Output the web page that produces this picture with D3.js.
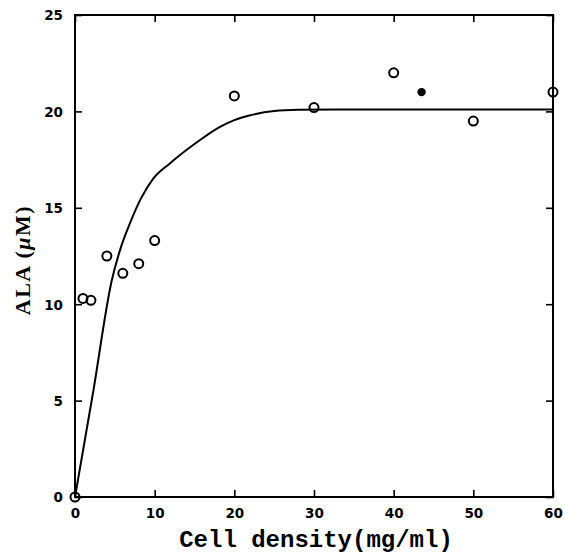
<!DOCTYPE html>
<html>
<head>
<meta charset="utf-8">
<script src="https://cdn.jsdelivr.net/npm/d3@7"></script>
<style>
  body { margin: 0; background: white; }
  .tick-label { font-family: "DejaVu Sans", sans-serif; font-weight: bold; font-size: 13.5px; }
  .x-title { font-family: "Liberation Mono", monospace; font-weight: bold; font-size: 24px; }
  .y-title { font-family: "Liberation Serif", serif; font-weight: bold; font-size: 22px; }
</style>
</head>
<body>
<div id="chart"></div>
<script>
// measured points (open circles)
const density = [0, 1, 2, 4, 6, 8, 10, 20, 30, 40, 50, 60];
const ala = [0, 10.3, 10.2, 12.5, 11.6, 12.1, 13.3, 20.8, 20.2, 22.0, 19.5, 21.0];

// single filled point
const filledDensity = [43.5];
const filledAla = [21.0];

// fitted curve
const curveX = [0, 2.3, 4.6, 5.8, 6.9, 8.3, 9.8, 11.9, 15.3, 18.2, 20, 22, 25, 28, 35, 60];
const curveY = [0, 5.5, 11.2, 13.0, 14.2, 15.5, 16.5, 17.3, 18.4, 19.2, 19.55, 19.8, 20.02, 20.08, 20.1, 20.1];

const xTicks = [0, 10, 20, 30, 40, 50, 60];
const yTicks = [0, 5, 10, 15, 20, 25];

const margin = {top: 15, right: 12, bottom: 56, left: 75};
const width = 565 - margin.left - margin.right;
const height = 553 - margin.top - margin.bottom;

const svg = d3.select("#chart")
  .append("svg")
  .attr("width", 565)
  .attr("height", 553)
  .append("g")
  .attr("transform", `translate(${margin.left},${margin.top})`);

const x = d3.scaleLinear().domain([0, 60]).range([0, width]);
const y = d3.scaleLinear().domain([0, 25]).range([height, 0]);

// frame
svg.append("rect")
  .attr("width", width)
  .attr("height", height)
  .attr("fill", "none")
  .attr("stroke", "#000")
  .attr("stroke-width", 2);

// inward ticks on all four sides
const tickLen = 7;
const bottomAxis = d3.axisBottom(x).tickValues(xTicks).tickSize(-tickLen).tickFormat(d3.format("d"));
const topAxis = d3.axisTop(x).tickValues(xTicks).tickSize(-tickLen).tickFormat("");
const leftAxis = d3.axisLeft(y).tickValues(yTicks).tickSize(-tickLen).tickFormat(d3.format("d"));
const rightAxis = d3.axisRight(y).tickValues(yTicks).tickSize(-tickLen).tickFormat("");

const gb = svg.append("g").attr("transform", `translate(0,${height})`).call(bottomAxis);
const gt = svg.append("g").call(topAxis);
const gl = svg.append("g").call(leftAxis);
const gr = svg.append("g").attr("transform", `translate(${width},0)`).call(rightAxis);

[gb, gt, gl, gr].forEach(g => {
  g.select(".domain").remove();
  g.selectAll(".tick line").attr("stroke", "#000").attr("stroke-width", 1.6);
  g.selectAll("text").attr("class", "tick-label").attr("fill", "#000");
});
gb.selectAll("text").attr("y", 11).attr("dy", "0.71em");
gl.selectAll("text").attr("x", -12).attr("dy", "0.36em");

// curve
const line = d3.line()
  .x(d => x(d[0]))
  .y(d => y(d[1]))
  .curve(d3.curveMonotoneX);

svg.append("path")
  .datum(curveX.map((v, i) => [v, curveY[i]]))
  .attr("d", line)
  .attr("fill", "none")
  .attr("stroke", "#000")
  .attr("stroke-width", 2);

// open circles
svg.selectAll(".pt")
  .data(density.map((v, i) => [v, ala[i]]))
  .enter()
  .append("circle")
  .attr("class", "pt")
  .attr("cx", d => x(d[0]))
  .attr("cy", d => y(d[1]))
  .attr("r", 4.5)
  .attr("fill", "none")
  .attr("stroke", "#000")
  .attr("stroke-width", 2);

// filled point
svg.selectAll(".fpt")
  .data(filledDensity.map((v, i) => [v, filledAla[i]]))
  .enter()
  .append("circle")
  .attr("class", "fpt")
  .attr("cx", d => x(d[0]))
  .attr("cy", d => y(d[1]))
  .attr("r", 4.2)
  .attr("fill", "#000");

// axis titles
svg.append("text")
  .attr("class", "x-title")
  .attr("x", width / 2 + 2)
  .attr("y", height + 50)
  .attr("text-anchor", "middle")
  .text("Cell density(mg/ml)");

svg.append("text")
  .attr("class", "y-title")
  .attr("transform", `translate(${-45},${height / 2 + 4}) rotate(-90)`)
  .attr("text-anchor", "middle")
  .attr("letter-spacing", 1.5)
  .html('ALA (<tspan font-style="italic">μ</tspan>M)');
</script>
</body>
</html>
